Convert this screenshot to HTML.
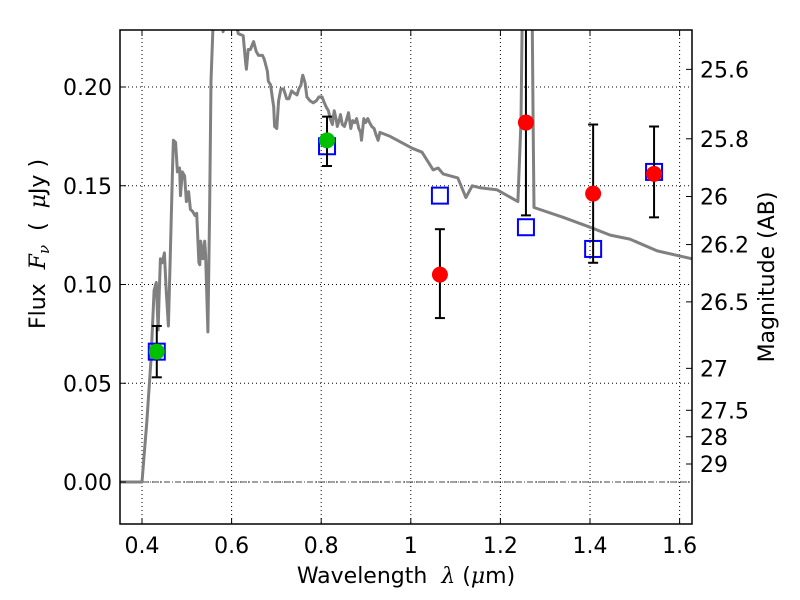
<!DOCTYPE html>
<html><head><meta charset="utf-8"><style>
html,body{margin:0;padding:0;background:#fff;}
svg{display:block;font-family:"DejaVu Sans","Liberation Sans",sans-serif;}
</style></head><body>
<svg id="chart" width="800" height="600"></svg>
<script>
const xTicks=[0.4,0.6,0.8,1.0,1.2,1.4,1.6];
const xTickLabels=["0.4","0.6","0.8","1","1.2","1.4","1.6"];
const yTicks=[0,0.05,0.10,0.15,0.20];
const yTickLabels=["0.00","0.05","0.10","0.15","0.20"];
const magTicks=[25.6,25.8,26,26.2,26.5,27,27.5,28,29];
const magTickLabels=["25.6","25.8","26","26.2","26.5","27","27.5","28","29"];
const specLam=[0.348,0.400,0.405,0.411,0.420,0.427,0.432,0.436,0.438,0.441,0.445,0.450,0.454,0.459,0.463,0.468,0.470,0.475,0.479,0.484,0.486,0.490,0.495,0.499,0.504,0.508,0.513,0.518,0.522,0.527,0.529,0.531,0.536,0.540,0.542,0.547,0.551,0.554,0.558,0.565,0.578,0.581,0.585,0.600,0.610,0.615,0.626,0.631,0.633,0.637,0.642,0.649,0.655,0.660,0.669,0.673,0.680,0.682,0.687,0.692,0.694,0.696,0.701,0.705,0.710,0.716,0.723,0.728,0.734,0.739,0.746,0.750,0.755,0.757,0.759,0.764,0.768,0.775,0.782,0.789,0.795,0.802,0.807,0.811,0.816,0.820,0.825,0.829,0.834,0.836,0.841,0.843,0.847,0.852,0.856,0.861,0.866,0.870,0.875,0.879,0.884,0.888,0.890,0.895,0.899,0.904,0.908,0.913,0.918,0.922,0.927,0.931,0.954,1.003,1.025,1.050,1.061,1.072,1.105,1.123,1.137,1.154,1.192,1.239,1.246,1.250,1.270,1.273,1.275,1.340,1.400,1.445,1.489,1.550,1.628];
const specFlux=[0,0,0.014,0.031,0.062,0.097,0.101,0.077,0.092,0.113,0.111,0.116,0.097,0.079,0.113,0.158,0.173,0.172,0.157,0.159,0.145,0.157,0.155,0.142,0.147,0.138,0.137,0.135,0.136,0.111,0.110,0.122,0.113,0.122,0.115,0.076,0.137,0.203,0.228,0.26,0.235,0.228,0.235,0.25,0.232,0.227,0.226,0.213,0.209,0.219,0.219,0.223,0.218,0.216,0.216,0.214,0.208,0.203,0.201,0.193,0.190,0.180,0.179,0.193,0.199,0.199,0.194,0.194,0.198,0.197,0.196,0.199,0.201,0.204,0.206,0.202,0.195,0.193,0.192,0.193,0.195,0.195,0.192,0.190,0.188,0.184,0.181,0.188,0.183,0.180,0.184,0.186,0.181,0.180,0.183,0.187,0.179,0.183,0.182,0.184,0.179,0.177,0.173,0.184,0.182,0.184,0.182,0.180,0.179,0.176,0.173,0.177,0.175,0.169,0.167,0.158,0.159,0.156,0.154,0.144,0.150,0.149,0.148,0.142,0.183,0.26,0.26,0.183,0.139,0.134,0.129,0.125,0.123,0.117,0.113];
const greenLam=[0.433,0.813];
const greenFlux=[0.066,0.173];
const greenErrLo=[0.053,0.160];
const greenErrHi=[0.079,0.185];
const modelLam=[0.433,0.813,1.065,1.257,1.407,1.543];
const modelFlux=[0.066,0.170,0.145,0.129,0.118,0.157];
const redLam=[1.065,1.257,1.407,1.543];
const redFlux=[0.105,0.182,0.146,0.156];
const redErrLo=[0.083,0.135,0.111,0.134];
const redErrHi=[0.128,0.30,0.181,0.180];

const L=120,R=692,T=30,B=524;
const X=v=>142+(v-0.4)*448;
const Y=v=>482-v*1975;
const magToFlux=m=>Math.pow(10,(23.9-m)/2.5);
const NS="http://www.w3.org/2000/svg";
const svg=document.getElementById('chart');
function mk(tag,attrs,parent){const e=document.createElementNS(NS,tag);for(const k in attrs)e.setAttribute(k,attrs[k]);(parent||svg).appendChild(e);return e;}
const defs=mk('defs',{});
const cp=mk('clipPath',{id:'clip'},defs);
mk('rect',{x:L,y:T,width:R-L,height:B-T},cp);

const grid=mk('g',{});


xTicks.forEach(v=>mk('line',{x1:X(v),x2:X(v),y1:T,y2:B,stroke:'#000','stroke-width':1,'stroke-dasharray':'1,3'},grid));
yTicks.forEach(v=>mk('line',{x1:L,x2:R,y1:Y(v),y2:Y(v),stroke:'#000','stroke-width':1,'stroke-dasharray':'1,3'},grid));

const plot=mk('g',{'clip-path':'url(#clip)'});
const zl=mk('line',{x1:L,x2:R,y1:Y(0),y2:Y(0),stroke:'#444','stroke-width':1,'stroke-dasharray':'6,2,1,2'},plot);


let d='';specLam.forEach((l,i)=>{d+=(i?'L':'M')+X(l).toFixed(1)+','+Y(specFlux[i]).toFixed(1);});
const sp=mk('path',{d:d,fill:'none',stroke:'#808080','stroke-width':3,'stroke-linejoin':'round'},plot);


modelLam.forEach((l,i)=>{
  const s=mk('rect',{x:X(l)-8,y:Y(modelFlux[i])-8,width:16,height:16,fill:'none',stroke:'#0000ff','stroke-width':2},plot);
  
  
});
function errbar(l,lo,hi){
  const g=mk('g',{},plot);
  
  
  mk('line',{x1:X(l),x2:X(l),y1:Y(lo),y2:Y(hi),stroke:'#000','stroke-width':2},g);
  mk('line',{x1:X(l)-5,x2:X(l)+5,y1:Y(lo),y2:Y(lo),stroke:'#000','stroke-width':2},g);
  mk('line',{x1:X(l)-5,x2:X(l)+5,y1:Y(hi),y2:Y(hi),stroke:'#000','stroke-width':2},g);
}
greenLam.forEach((l,i)=>{
  errbar(l,greenErrLo[i],greenErrHi[i]);
  const c=mk('circle',{cx:X(l),cy:Y(greenFlux[i]),r:8,fill:'#00c000'},plot);
  
  
});
redLam.forEach((l,i)=>{
  errbar(l,redErrLo[i],redErrHi[i]);
  const c=mk('circle',{cx:X(l),cy:Y(redFlux[i]),r:8,fill:'#ff0000'},plot);
  
  
});
const fr=mk('rect',{x:L,y:T,width:R-L,height:B-T,fill:'none',stroke:'#000','stroke-width':1.5});


xTicks.forEach((v,i)=>{
  mk('line',{x1:X(v),x2:X(v),y1:B,y2:B-6,stroke:'#000'});
  mk('line',{x1:X(v),x2:X(v),y1:T,y2:T+6,stroke:'#000'});
  const t=mk('text',{x:X(v),y:B+29,'font-size':22,'text-anchor':'middle'});
  t.textContent=xTickLabels[i];
  
  
});
yTicks.forEach((v,i)=>{
  mk('line',{x1:L,x2:L+6,y1:Y(v),y2:Y(v),stroke:'#000'});
  const t=mk('text',{x:L-8,y:Y(v)+8,'font-size':22,'text-anchor':'end'});
  t.textContent=yTickLabels[i];
  
  
});
magTicks.forEach((m,i)=>{
  const y=Y(magToFlux(m));
  mk('line',{x1:R,x2:R-6,y1:y,y2:y,stroke:'#000'});
  const t=mk('text',{x:R+8,y:y+8,'font-size':22,'text-anchor':'start'});
  t.textContent=magTickLabels[i];
  
  
});
</script>
<svg style="position:absolute;left:0;top:0" width="800" height="600">
<text x="406" y="583" font-size="22" text-anchor="middle" font-family="DejaVu Sans, sans-serif" xml:space="preserve">Wavelength  <tspan font-style="italic" font-family="DejaVu Serif, serif">λ</tspan> (<tspan font-style="italic" font-family="DejaVu Serif, serif">μ</tspan>m)</text>
<text transform="translate(45,244) rotate(-90)" font-size="22" text-anchor="middle" font-family="DejaVu Sans, sans-serif" xml:space="preserve">Flux  <tspan font-style="italic" font-family="DejaVu Serif, serif">F</tspan><tspan font-style="italic" font-family="DejaVu Serif, serif" font-size="15" dy="4">ν</tspan><tspan dy="-4">  (  </tspan><tspan font-style="italic" font-family="DejaVu Serif, serif">μ</tspan>Jy )</text>
<text transform="translate(774,277) rotate(-90)" font-size="22" text-anchor="middle" font-family="DejaVu Sans, sans-serif">Magnitude (AB)</text>
</svg>
</body></html>
